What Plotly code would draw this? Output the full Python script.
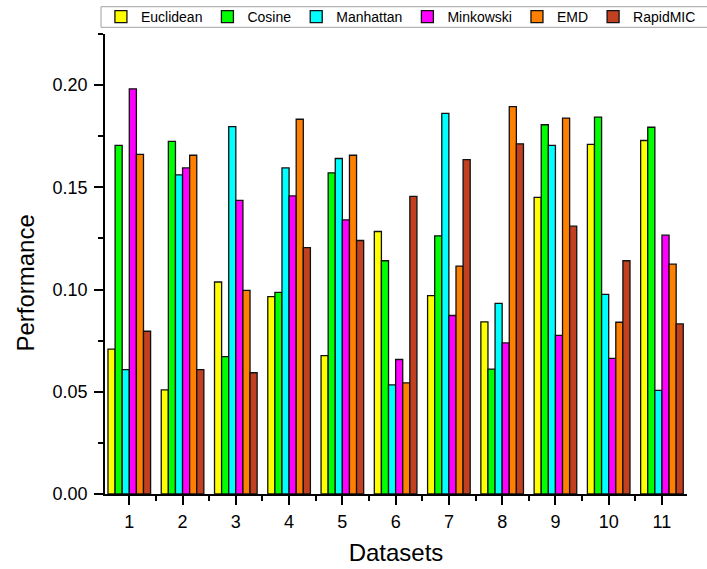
import plotly.graph_objects as go

datasets = [1, 2, 3, 4, 5, 6, 7, 8, 9, 10, 11]
euclidean = [0.0709, 0.0509, 0.1037, 0.0965, 0.0677, 0.1284, 0.0970, 0.0842, 0.1451, 0.1710, 0.1729]
cosine    = [0.1705, 0.1725, 0.0672, 0.0986, 0.1571, 0.1141, 0.1263, 0.0611, 0.1806, 0.1843, 0.1794]
manhattan = [0.0608, 0.1561, 0.1797, 0.1595, 0.1641, 0.0534, 0.1862, 0.0932, 0.1705, 0.0976, 0.0507]
minkowski = [0.1982, 0.1595, 0.1436, 0.1458, 0.1341, 0.0658, 0.0873, 0.0739, 0.0776, 0.0663, 0.1266]
emd       = [0.1661, 0.1657, 0.0996, 0.1833, 0.1657, 0.0544, 0.1115, 0.1895, 0.1839, 0.0840, 0.1124]
rapidmic  = [0.0796, 0.0608, 0.0593, 0.1205, 0.1240, 0.1456, 0.1636, 0.1713, 0.1310, 0.1141, 0.0832]

series = [
    ("Euclidean", euclidean, "#FFFF00"),
    ("Cosine", cosine, "#00FF00"),
    ("Manhattan", manhattan, "#00FFFF"),
    ("Minkowski", minkowski, "#FF00FF"),
    ("EMD", emd, "#FF8000"),
    ("RapidMIC", rapidmic, "#C0401F"),
]

fig = go.Figure()
for name, vals, color in series:
    fig.add_trace(go.Bar(
        x=datasets, y=vals, name=name,
        marker=dict(color=color, line=dict(color="#111111", width=1.3)),
    ))

font_family = "Liberation Sans, Arial, sans-serif"
H_PLOT = 569 - 34 - 75
fig.update_layout(
    width=707, height=569,
    barmode="group", bargap=0.2, bargroupgap=0,
    plot_bgcolor="white", paper_bgcolor="white",
    font=dict(family=font_family, color="#000000"),
    margin=dict(l=105, r=20, t=34, b=75, autoexpand=False),
    legend=dict(
        orientation="h", x=-0.007, y=1 + (34 - 17) / H_PLOT, xanchor="left", yanchor="middle",
        borderwidth=0, bgcolor="rgba(0,0,0,0)",
        font=dict(size=14, family=font_family),
        tracegroupgap=0,
    ),
    shapes=[dict(
        type="rect", xref="paper", yref="paper",
        x0=(101 - 105) / 582, x1=1.1,
        y0=1 + (34 - 27.3) / H_PLOT, y1=1 + (34 - 6.7) / H_PLOT,
        line=dict(color="#A0A0A0", width=1), fillcolor="rgba(0,0,0,0)", layer="below",
    )],
    xaxis=dict(
        range=[0.544, 11.47], tickmode="array", tickvals=datasets,
        ticktext=[str(d) for d in datasets],
        showline=True, linecolor="#000000", linewidth=1.8,
        ticks="outside", ticklen=9, tickwidth=1.8, tickcolor="#000000",
        minor=dict(tickvals=[d + 0.5 for d in [0] + datasets], ticks="outside", ticklen=5, tickwidth=1.8, tickcolor="#000000"),
        tickfont=dict(size=18), showgrid=False, zeroline=False, automargin=False,
        ticklabelstandoff=1,
        title=dict(text="Datasets", font=dict(size=24), standoff=14),
    ),
    yaxis=dict(
        range=[0, 0.225], tickmode="linear", tick0=0, dtick=0.05, tickformat=".2f",
        showline=True, linecolor="#000000", linewidth=1.8,
        ticks="outside", ticklen=9, tickwidth=1.8, tickcolor="#000000",
        minor=dict(dtick=0.025, ticks="outside", ticklen=5, tickwidth=1.8, tickcolor="#000000"),
        tickfont=dict(size=18), showgrid=False, zeroline=False, automargin=False,
        ticklabelstandoff=3,
    ),
    annotations=[dict(
        text="Performance", textangle=-90, xref="paper", yref="paper",
        x=-0.137, y=0.458, xanchor="center", yanchor="middle", showarrow=False,
        font=dict(size=24, family=font_family, color="#000000"),
    )],
)

fig.write_html(
    "out.html",
    config={"displayModeBar": False},
    post_script="document.body.style.margin='0';document.body.style.overflow='hidden';",
)
